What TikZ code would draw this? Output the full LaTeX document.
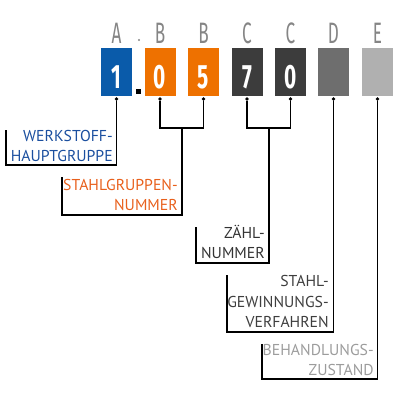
\documentclass[tikz,border=0pt]{standalone}
\usepackage{fontspec}
\setmainfont{PT Sans}
\newfontfamily\digitfont{Fira Sans}[FakeStretch=0.62]
\newfontfamily\letterfont{Fira Sans}[FakeStretch=0.58]
\usetikzlibrary{positioning}

\definecolor{wblue}{HTML}{0A5BAA}
\definecolor{worange}{HTML}{EE7100}
\definecolor{wdark}{HTML}{3C3C3C}
\definecolor{wmid}{HTML}{6E6E6E}
\definecolor{wlight}{HTML}{B0B0B0}
\definecolor{tblue}{HTML}{1B4F9F}
\definecolor{torange}{HTML}{E8601C}
\definecolor{tdark}{HTML}{333333}
\definecolor{tmid}{HTML}{3E3E3E}
\definecolor{tlight}{HTML}{9C9C9C}
\definecolor{lgray}{HTML}{858585}

\begin{document}
\begin{tikzpicture}[x = 0.25mm, y = -0.25mm,
    digit/.style = {minimum width = 7.75mm, minimum height = 12mm, inner sep = 0pt, text height = 8mm, text depth = 0pt, text = white, font = \digitfont\bfseries\fontsize{24}{24}\selectfont},
    letter/.style = {inner sep = 0pt, text = lgray, font = \letterfont\fontsize{21}{21}\selectfont},
    desc/.style = {anchor = south east, align = right, inner sep = 0pt, text depth = 0pt, font = \fontsize{11.2}{14.6}\selectfont},
    knob/.style = {circle, fill = black, inner sep = 0pt, minimum size = 0.9mm},
    conn/.style = {draw = black, line width = 0.33mm}]
    \useasboundingbox (0,0) rectangle (400,400);

    % letters above the boxes
    \node[letter] (lA) at (116.5,33) {A};
    \node[letter] (lB1) at (160,33) {B};
    \node[letter] (lB2) at (203.5,33) {B};
    \node[letter] (lC1) at (247,33) {C};
    \node[letter] (lC2) at (290.5,33) {C};
    \node[letter] (lD) at (333.5,33) {D};
    \node[letter] (lE) at (377.5,33) {E};
    \node[circle, fill = lgray, inner sep = 0pt, minimum size = 0.55mm] (sep) at (139,40) {};

    % number boxes
    \node[digit, fill = wblue] (b1) at (116.5,72) {1};
    \node[digit, fill = worange] (b2) at (160,72) {0};
    \node[digit, fill = worange] (b3) at (203.5,72) {5};
    \node[digit, fill = wdark] (b4) at (247,72) {7};
    \node[digit, fill = wdark] (b5) at (290.5,72) {0};
    \node[digit, fill = wmid] (b6) at (333.5,72) {};
    \node[digit, fill = wlight] (b7) at (377.5,72) {};
    \node[fill = black, inner sep = 0pt, minimum size = 1.3mm] (pt) at (138.5,91.5) {};

    % knobs under the boxes
    \node[knob] (k1) at (116.5,99) {};
    \node[knob] (k2) at (160,99) {};
    \node[knob] (k3) at (203.5,99) {};
    \node[knob] (k4) at (247,99) {};
    \node[knob] (k5) at (290.5,99) {};
    \node[knob] (k6) at (333.5,99) {};
    \node[knob] (k7) at (377.5,99) {};

    % descriptions
    \node[desc, text = tblue] (tA) at (113,162) {WERKSTOFF-\\HAUPTGRUPPE};
    \node[desc, text = torange] (tB) at (178,211) {STAHLGRUPPEN-\\NUMMER};
    \node[desc, text = tdark] (tC) at (265,259) {ZÄHL-\\NUMMER};
    \node[desc, text = tmid] (tD) at (329,328) {STAHL-\\GEWINNUNGS-\\VERFAHREN};
    \node[desc, text = tlight] (tE) at (374,376) {BEHANDLUNGS-\\ZUSTAND};

    % bracket corners
    \coordinate (fA) at (6,165);   \coordinate (eA) at (6,130);
    \coordinate (jB) at (182,128); \coordinate (fB) at (62,215);  \coordinate (eB) at (62,177);
    \coordinate (jC) at (269,128); \coordinate (fC) at (196,263); \coordinate (eC) at (196,227);
    \coordinate (fD) at (227,332); \coordinate (eD) at (227,275);
    \coordinate (fE) at (262,379); \coordinate (eE) at (262,344);

    % brackets
    \draw[conn] (k1) |- (fA) -- (eA);
    \draw[conn] (k2) |- (jB) -| (k3);
    \draw[conn] (jB) |- (fB) -- (eB);
    \draw[conn] (k4) |- (jC) -| (k5);
    \draw[conn] (jC) |- (fC) -- (eC);
    \draw[conn] (k6) |- (fD) -- (eD);
    \draw[conn] (k7) |- (fE) -- (eE);
\end{tikzpicture}
\end{document}
